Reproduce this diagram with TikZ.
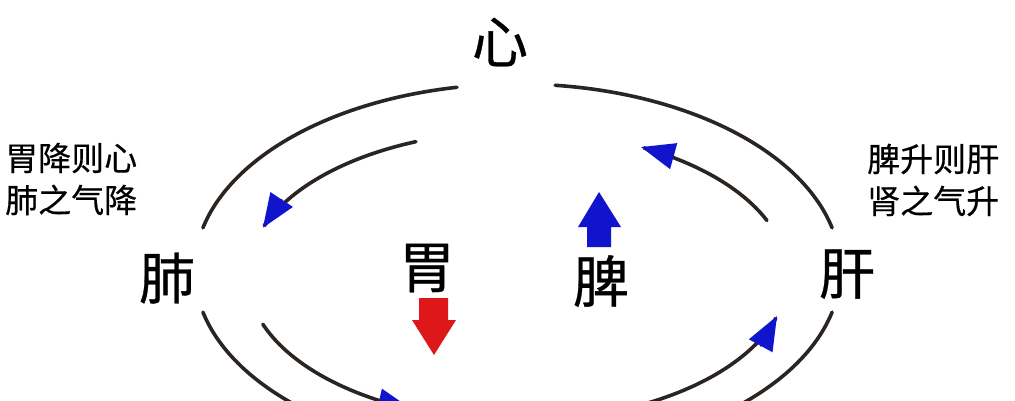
\documentclass[tikz,border=0pt]{standalone}
\usepackage{fontspec}
\newfontfamily\cjk{Noto Sans CJK SC}[FakeBold=0.6]
\newfontfamily\cjksm{Noto Sans CJK SC}[FakeBold=0.4]
\usetikzlibrary{arrows.meta}
\definecolor{arcc}{RGB}{43,37,34}
\definecolor{ablue}{RGB}{16,20,205}
\definecolor{ared}{RGB}{222,24,24}
\begin{document}
\begin{tikzpicture}[x=1pt,y=-1pt,
  arcline/.style={draw=arcc,line width=3.6pt,line cap=round},
  tipb/.style={-{Triangle[length=34pt,width=26pt,color=ablue]}},
  big/.style={font=\cjk\fontsize{56}{60}\selectfont,inner sep=0pt,text=black},
  small/.style={font=\cjksm\fontsize{33}{42}\selectfont,inner sep=0pt,align=left,anchor=west,text=black}]
\useasboundingbox (0,0) rectangle (1015,400);
\fill[white] (0,0) rectangle (1015,400);
\clip (0,0) rectangle (1015,400);
% labels
\node[big] (xin) at (500,42) {心};
\node[big] (fei) at (167,278) {肺};
\node[big] (wei) at (427,268) {胃};
\node[big] (pi) at (601,281) {脾};
\node[big] (gan) at (847,274) {肝};
\node[small] (lt) at (5,179) {胃降则心\\肺之气降};
\node[small] (rt) at (867,180) {脾升则肝\\肾之气升};
% outer ellipse arcs
\draw[arcline] plot[domain=166.9:100.8,samples=60,smooth] ({517.5+323*cos(\x)},{270-186*sin(\x)});
\draw[arcline] plot[domain=83.3:13.1,samples=60,smooth] ({517.5+323*cos(\x)},{270-186*sin(\x)});
\draw[arcline] plot[domain=193.1:262,samples=60,smooth] ({517.5+323*cos(\x)},{270-186*sin(\x)});
\draw[arcline] plot[domain=346.9:278,samples=60,smooth] ({517.5+323*cos(\x)},{270-186*sin(\x)});
% inner arrows
\draw[arcline,tipb] plot[domain=112.1:160.6,samples=60,smooth] ({517.5+270*cos(\x)},{276-145*sin(\x)});
\draw[arcline,tipb] plot[domain=22.5:62.8,samples=60,smooth] ({517.5+270*cos(\x)},{276-145*sin(\x)});
\draw[arcline,tipb] plot[domain=199.4:247,samples=60,smooth] ({517.5+270*cos(\x)},{276-145*sin(\x)});
\draw[arcline,tipb] plot[domain=-66:-16,samples=60,smooth] ({517.5+270*cos(\x)},{276-145*sin(\x)});
% block arrows
\fill[ablue] (587,247) -- (587,227) -- (578,227) -- (599,192) -- (621,227) -- (611,227) -- (611,247) -- cycle;
\fill[ared] (419,298) -- (448,298) -- (448,320) -- (456,320) -- (434,355) -- (412,320) -- (419,320) -- cycle;
\end{tikzpicture}
\end{document}
